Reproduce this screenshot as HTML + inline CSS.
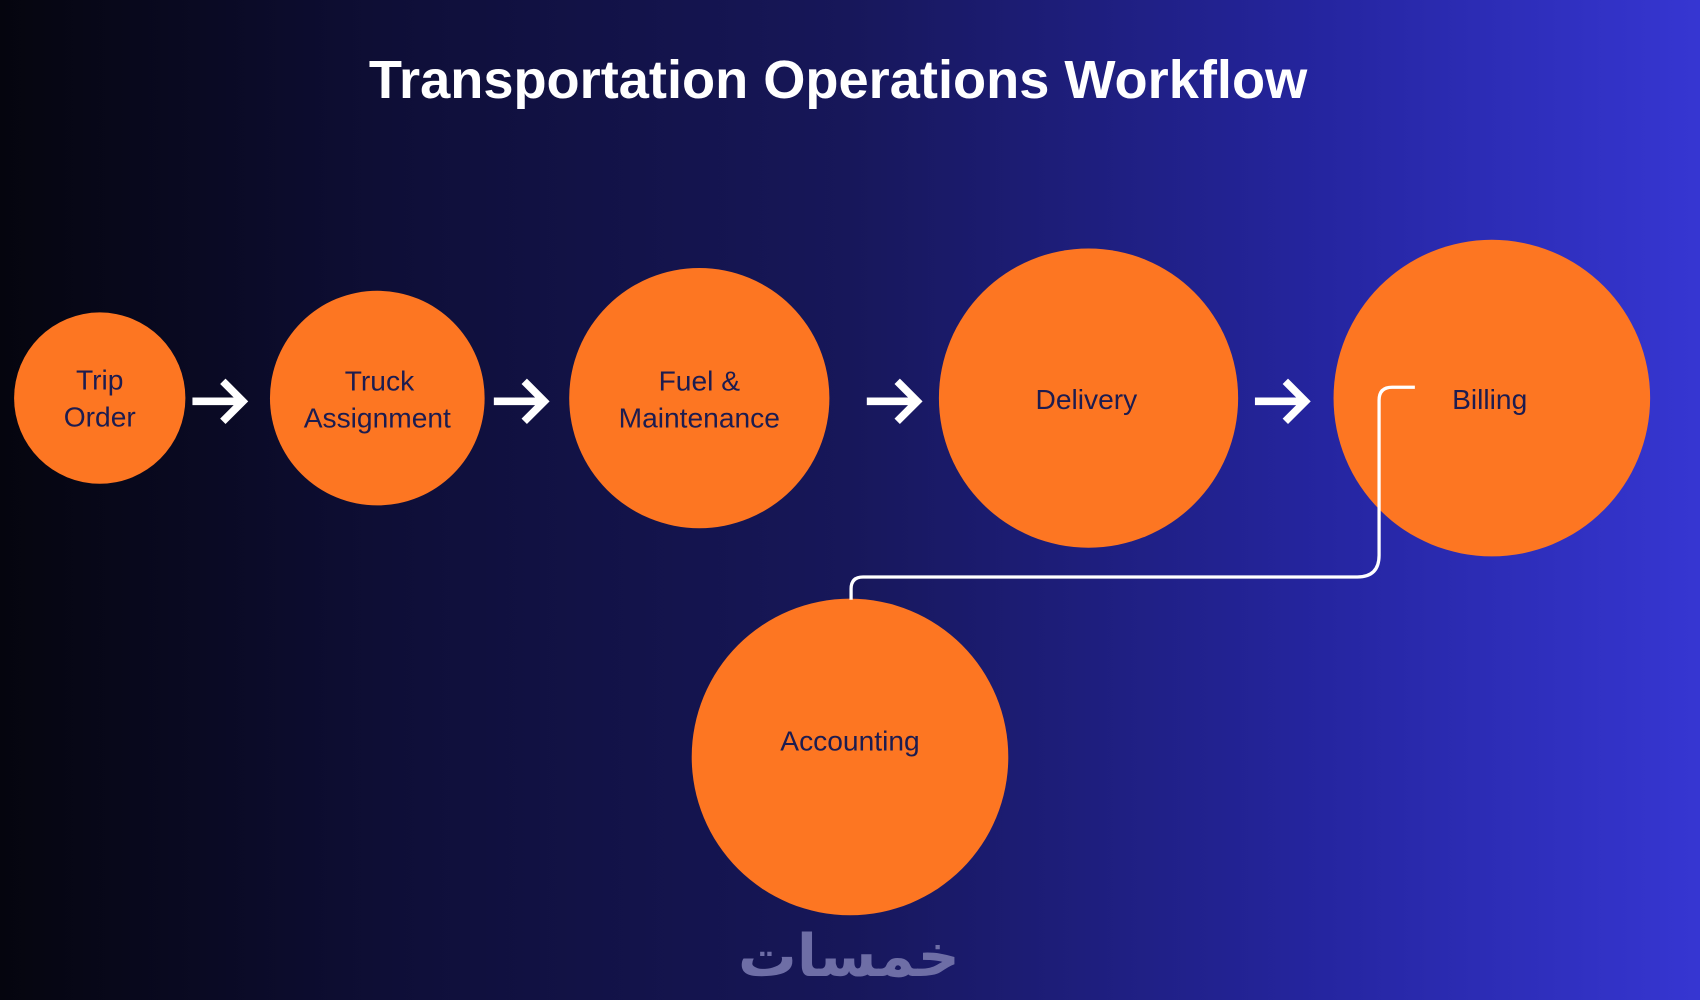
<!DOCTYPE html>
<html><head><meta charset="utf-8"><style>
html,body{margin:0;padding:0;width:1700px;height:1000px;overflow:hidden}
body{background:linear-gradient(90deg,#05050e 0%,#0f0f3a 25%,#17175a 50%,#2525a0 78%,#3636d2 100%)}
svg{display:block}
</style></head><body>
<svg width="1700" height="1000" viewBox="0 0 1568 922" xmlns="http://www.w3.org/2000/svg">
<text x="773" y="90" text-anchor="middle" font-family="Liberation Sans, sans-serif" font-weight="bold" font-size="50" fill="#fff">Transportation Operations Workflow</text>
<g fill="#fd7622">
<circle cx="92" cy="367" r="79"/>
<circle cx="348" cy="367" r="99"/>
<circle cx="645" cy="367" r="120"/>
<circle cx="1004" cy="367" r="138"/>
<circle cx="1376" cy="367" r="146"/>
<circle cx="784" cy="698" r="146"/>
</g>
<g stroke="#fff" stroke-width="7" fill="none" stroke-linecap="square">
<path d="M181 370H222M208 354L224 370L208 386"/>
<path d="M459 370H500M486 354L502 370L486 386"/>
<path d="M803 370H844M830 354L846 370L830 386"/>
<path d="M1161 370H1202M1188 354L1204 370L1188 386"/>
</g>
<path d="M1305 357H1284Q1272 357 1272 369V512Q1272 532 1252 532H796Q785 532 785 543V553" stroke="#fff" stroke-width="3" fill="none"/>
<g font-family="Liberation Sans, sans-serif" font-size="26" fill="#1c1c50" text-anchor="middle">
<text x="92" y="359">Trip</text><text x="92" y="393">Order</text>
<text x="350" y="360">Truck</text><text x="348" y="394">Assignment</text>
<text x="645" y="360">Fuel &amp;</text><text x="645" y="394">Maintenance</text>
<text x="1002" y="377">Delivery</text>
<text x="1374" y="377">Billing</text>
<text x="784" y="692">Accounting</text>
</g>
<text x="783" y="900" text-anchor="middle" font-family="Noto Sans CJK SC, DejaVu Sans, sans-serif" font-size="54" font-weight="bold" fill="#6e6ea6">خمسات</text>
</svg>
</body></html>
